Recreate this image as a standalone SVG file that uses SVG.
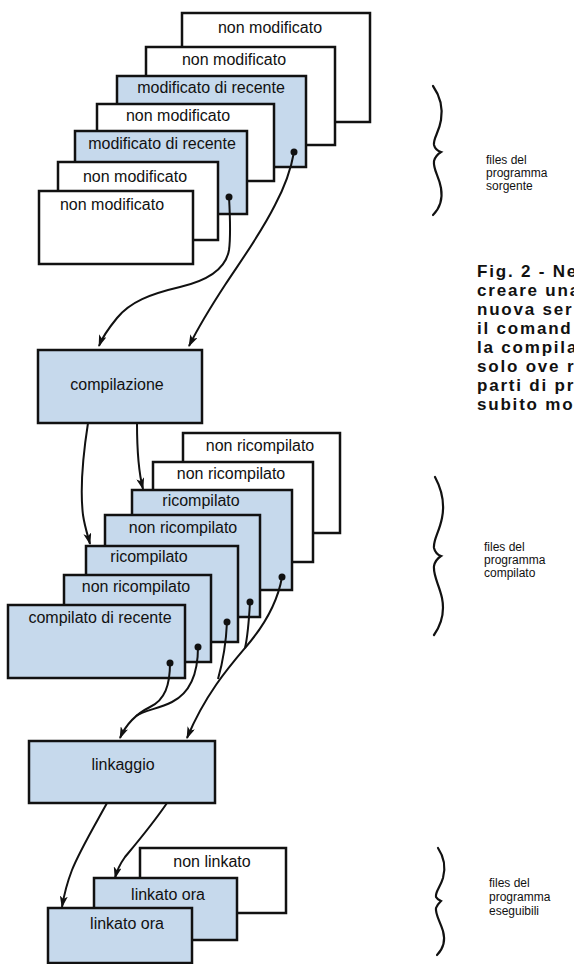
<svg xmlns="http://www.w3.org/2000/svg" width="574" height="964" viewBox="0 0 574 964">
<defs>
<marker id="ah" markerWidth="12" markerHeight="8" refX="11" refY="4" orient="auto" markerUnits="userSpaceOnUse">
<path d="M0,0 L12,4 L0,8 L3,4 Z" fill="#111"/>
</marker>
<style>
.w{fill:#ffffff;stroke:#111;stroke-width:2.5}
.b{fill:#c6d9ec;stroke:#111;stroke-width:2.5}
.t{font-family:"Liberation Sans",Arial,sans-serif;font-size:16px;fill:#111;text-anchor:middle}
.s{font-family:"Liberation Sans",Arial,sans-serif;font-size:12px;fill:#111}
.c{font-family:"Liberation Sans",Arial,sans-serif;font-size:17px;font-weight:bold;fill:#111;letter-spacing:1.8px}
.ln{fill:none;stroke:#111;stroke-width:2}
.dot{fill:#111}
.br{fill:none;stroke:#111;stroke-width:2.2;stroke-linecap:round}
</style>
</defs>
<rect width="574" height="964" fill="#ffffff"/>

<!-- source files -->
<g id="src1"><rect class="w" x="182" y="13" width="188" height="109"/><text class="t" x="270" y="33">non modificato</text></g>
<g id="src2"><rect class="w" x="146" y="47" width="189" height="98"/><text class="t" x="234" y="65">non modificato</text></g>
<g id="src3"><rect class="b" x="117" y="76" width="189" height="91"/><text class="t" x="211" y="93">modificato di recente</text><circle class="dot" cx="294" cy="152" r="3.5"/></g>
<g id="src4"><rect class="w" x="97" y="104" width="177" height="77"/><text class="t" x="178" y="121">non modificato</text></g>
<g id="src5"><rect class="b" x="75" y="131" width="172" height="83"/><text class="t" x="162" y="149">modificato di recente</text><circle class="dot" cx="229" cy="197" r="3.5"/></g>
<g id="src6"><rect class="w" x="58" y="162" width="160" height="78"/><text class="t" x="135" y="182">non modificato</text></g>
<g id="src7"><rect class="w" x="39" y="191" width="154" height="73"/><text class="t" x="112" y="210">non modificato</text></g>

<g id="compilazione"><rect class="b" x="38" y="350" width="164" height="73"/><text class="t" x="117" y="390">compilazione</text></g>

<!-- compiled files -->
<g id="obj1"><rect class="w" x="183" y="433" width="157" height="100"/><text class="t" x="260" y="451">non ricompilato</text></g>
<g id="obj2"><rect class="w" x="153" y="462" width="160" height="100"/><text class="t" x="231" y="479">non ricompilato</text></g>
<g id="obj3"><rect class="b" x="132" y="490" width="160" height="100"/><text class="t" x="201" y="506">ricompilato</text><circle class="dot" cx="282" cy="577" r="3.5"/></g>
<g id="obj4"><rect class="b" x="105" y="515" width="155" height="102"/><text class="t" x="183" y="533">non ricompilato</text><circle class="dot" cx="250" cy="602" r="3.5"/></g>
<g id="obj5"><rect class="b" x="86" y="546" width="152" height="96"/><text class="t" x="149" y="562">ricompilato</text><circle class="dot" cx="227" cy="622" r="3.5"/></g>
<g id="obj6"><rect class="b" x="64" y="575" width="147" height="87"/><text class="t" x="136" y="592">non ricompilato</text><circle class="dot" cx="198" cy="647" r="3.5"/></g>
<g id="obj7"><rect class="b" x="8" y="605" width="177" height="73"/><text class="t" x="100" y="623">compilato di recente</text><circle class="dot" cx="170" cy="663" r="3.5"/></g>

<g id="linkaggio"><rect class="b" x="29" y="741" width="186" height="62"/><text class="t" x="123" y="770">linkaggio</text></g>

<!-- executables -->
<g id="exe1"><rect class="w" x="140" y="848" width="146" height="65"/><text class="t" x="212" y="867">non linkato</text></g>
<g id="exe2"><rect class="b" x="94" y="878" width="143" height="62"/><text class="t" x="168" y="900">linkato ora</text></g>
<g id="exe3"><rect class="b" x="48" y="908" width="144" height="55"/><text class="t" x="127" y="929">linkato ora</text></g>

<!-- connectors -->
<g id="connectors">
<path class="ln" marker-end="url(#ah)" d="M229,197 C230,215 231,235 229,250 C226,268 210,280 180,287 C150,294 130,302 117,318 C108,329 102,338 99,346"/>
<path class="ln" marker-end="url(#ah)" d="M294,152 C290,175 283,190 275,205 C260,235 240,262 225,285 C210,308 198,328 189,346"/>
<path class="ln" marker-end="url(#ah)" d="M88,423 C83,455 80,490 83,515 C85,528 88,536 90,544"/>
<path class="ln" marker-end="url(#ah)" d="M137,423 C137,450 138,470 143,489"/>
<path class="ln" marker-end="url(#ah)" d="M170,663 C170,685 165,700 150,707 C138,713 127,722 120,738"/>
<path class="ln" d="M198,647 C198,670 192,692 172,702 C158,709 145,710 136,716"/>
<path class="ln" marker-end="url(#ah)" d="M282,577 C278,600 265,625 245,648 C228,668 205,695 187,738"/>
<path class="ln" d="M250,602 C249,620 248,635 245,648"/>
<path class="ln" d="M227,622 C226,645 222,665 218,679"/>
<path class="ln" marker-end="url(#ah)" d="M107,803 C95,825 80,850 72,870 C67,883 64,895 62,907"/>
<path class="ln" marker-end="url(#ah)" d="M167,803 C152,825 135,845 125,857 C120,864 117,870 115,878"/>
</g>

<!-- braces and labels -->
<g id="brace-src">
<path class="br" d="M433,86 C440,96 443,108 441,120 C439,133 433,138 434,145 C435,149 438,151 441,152 C438,154 435,157 434,161 C433,170 439,176 441,188 C443,200 440,208 433,215"/>
<text class="s" x="486" y="164">files del</text>
<text class="s" x="486" y="177">programma</text>
<text class="s" x="486" y="190">sorgente</text>
</g>
<g id="caption">
<text class="c" x="477" y="277">Fig. 2 - Ne</text>
<text class="c" x="477" y="296">creare una</text>
<text class="c" x="477" y="315">nuova ser</text>
<text class="c" x="477" y="334">il comand</text>
<text class="c" x="477" y="353">la compila</text>
<text class="c" x="477" y="372">solo ove r</text>
<text class="c" x="477" y="391">parti di pr</text>
<text class="c" x="477" y="410">subito mo</text>
</g>
<g id="brace-obj">
<path class="br" d="M435,477 C442,490 445,503 442,518 C439,533 433,540 434,548 C435,552 438,555 441,556 C438,558 435,561 434,566 C433,576 439,584 442,598 C445,613 441,625 434,635"/>
<text class="s" x="484" y="551">files del</text>
<text class="s" x="484" y="564">programma</text>
<text class="s" x="484" y="577">compilato</text>
</g>
<g id="brace-exe">
<path class="br" d="M438,848 C444,857 446,867 443,878 C440,888 435,892 436,897 C437,899 439,900 441,901 C439,903 437,905 436,908 C435,914 440,921 443,931 C446,942 443,949 437,955"/>
<text class="s" x="489" y="887">files del</text>
<text class="s" x="489" y="901">programma</text>
<text class="s" x="489" y="915">eseguibili</text>
</g>
</svg>
